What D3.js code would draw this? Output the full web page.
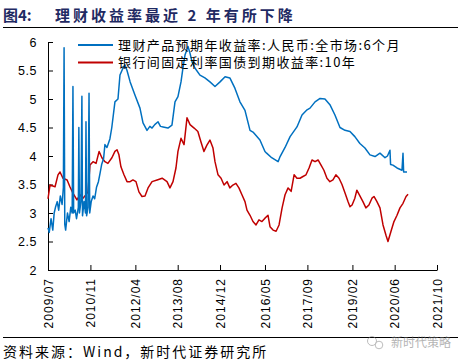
<!DOCTYPE html>
<html>
<head>
<meta charset="utf-8">
<script src="https://cdn.jsdelivr.net/npm/d3@7"></script>
<style>
  body { margin: 0; background: #fff; }
  svg { display: block; }
</style>
</head>
<body>
<div id="graph"></div>
<script>
// 理财产品预期年收益率:人民币:全市场:6个月
var wmpRates = [
    ['2009-07-01', 2.74], ['2009-07-15', 2.66], ['2009-08-05', 2.9], ['2009-08-25', 2.7],
    ['2009-09-10', 3.0], ['2009-09-25', 3.1], ['2009-10-15', 3.2], ['2009-11-01', 3.05],
    ['2009-11-20', 3.3], ['2009-12-10', 3.15], ['2009-12-25', 3.45], ['2010-01-02', 5.9],
    ['2010-01-10', 2.8], ['2010-01-20', 2.7], ['2010-02-10', 3.0], ['2010-03-01', 2.85],
    ['2010-03-20', 3.1], ['2010-04-05', 3.0], ['2010-04-14', 5.22], ['2010-04-22', 3.0],
    ['2010-05-10', 3.05], ['2010-05-25', 2.9], ['2010-06-15', 3.1], ['2010-06-21', 4.5],
    ['2010-06-28', 3.0], ['2010-07-15', 3.2], ['2010-07-26', 5.05], ['2010-08-02', 2.95],
    ['2010-08-20', 3.2], ['2010-09-05', 3.0], ['2010-09-11', 4.6], ['2010-09-18', 2.95],
    ['2010-10-05', 3.1], ['2010-10-16', 5.1], ['2010-10-24', 3.0], ['2010-11-10', 3.2],
    ['2010-12-01', 3.3], ['2010-12-20', 3.25], ['2011-01-10', 3.45], ['2011-02-01', 3.55],
    ['2011-02-20', 3.7], ['2011-03-10', 3.85], ['2011-04-01', 3.95], ['2011-04-17', 4.2],
    ['2011-05-10', 4.15], ['2011-06-13', 4.3], ['2011-07-05', 4.5], ['2011-08-10', 4.95],
    ['2011-09-14', 5.0], ['2011-10-07', 5.42], ['2011-11-10', 5.54], ['2011-12-03', 5.6],
    ['2011-12-27', 5.5], ['2012-02-01', 5.3], ['2012-03-27', 5.07], ['2012-05-24', 4.84],
    ['2012-06-28', 4.58], ['2012-08-13', 4.45], ['2012-09-15', 4.52], ['2012-10-10', 4.49],
    ['2012-11-10', 4.55], ['2012-12-18', 4.6], ['2013-01-15', 4.52], ['2013-02-14', 4.51],
    ['2013-04-11', 4.49], ['2013-05-27', 4.54], ['2013-07-01', 4.95], ['2013-08-04', 5.04],
    ['2013-09-08', 5.3], ['2013-10-01', 5.55], ['2013-10-24', 5.77], ['2013-11-28', 5.92],
    ['2013-12-21', 5.8], ['2014-01-13', 5.65], ['2014-02-17', 5.54], ['2014-04-14', 5.42],
    ['2014-06-10', 5.37], ['2014-08-07', 5.3], ['2014-10-04', 5.22], ['2014-12-01', 5.3],
    ['2015-01-28', 5.39], ['2015-03-24', 5.37], ['2015-05-21', 5.19], ['2015-07-18', 4.95],
    ['2015-09-14', 4.8], ['2015-11-11', 4.45], ['2015-12-15', 4.42], ['2016-01-07', 4.38],
    ['2016-03-04', 4.28], ['2016-05-01', 4.08], ['2016-05-20', 4.05], ['2016-07-17', 3.97],
    ['2016-09-29', 3.9], ['2016-10-22', 3.99], ['2016-12-18', 4.15], ['2017-02-14', 4.34],
    ['2017-05-04', 4.51], ['2017-07-01', 4.72], ['2017-08-28', 4.81], ['2017-10-01', 4.84],
    ['2017-11-28', 4.95], ['2018-01-25', 5.01], ['2018-03-22', 5.0], ['2018-05-18', 4.9],
    ['2018-07-15', 4.72], ['2018-09-11', 4.5], ['2018-11-08', 4.45], ['2019-01-04', 4.43],
    ['2019-03-01', 4.34], ['2019-04-28', 4.22], ['2019-06-25', 4.14], ['2019-08-22', 4.02],
    ['2019-10-19', 3.99], ['2019-12-15', 4.05], ['2020-02-11', 3.97], ['2020-03-10', 4.0],
    ['2020-04-08', 4.1], ['2020-04-15', 3.85], ['2020-05-12', 3.84], ['2020-06-28', 3.79],
    ['2020-08-24', 3.75], ['2020-09-05', 4.05], ['2020-09-12', 3.72], ['2020-10-21', 3.72]
];

// 银行间固定利率国债到期收益率:10年
var bondYields = [
    ['2009-07-01', 3.25], ['2009-07-24', 3.49], ['2009-09-20', 3.46], ['2009-10-24', 3.67],
    ['2009-11-16', 3.72], ['2009-12-20', 3.61], ['2010-02-06', 3.58], ['2010-03-10', 3.46],
    ['2010-04-14', 3.35], ['2010-05-30', 3.23], ['2010-07-03', 3.32], ['2010-08-07', 3.26],
    ['2010-09-11', 3.32], ['2010-10-04', 3.37], ['2010-10-27', 3.84], ['2010-12-01', 3.9],
    ['2011-01-05', 3.87], ['2011-02-09', 4.08], ['2011-03-13', 3.97], ['2011-04-17', 3.9],
    ['2011-05-21', 3.87], ['2011-07-06', 3.97], ['2011-08-10', 4.08], ['2011-09-03', 4.11],
    ['2011-09-25', 4.02], ['2011-10-18', 3.81], ['2011-11-22', 3.67], ['2011-12-27', 3.55],
    ['2012-02-01', 3.55], ['2012-03-04', 3.58], ['2012-04-08', 3.55], ['2012-05-12', 3.37],
    ['2012-06-16', 3.29], ['2012-07-21', 3.3], ['2012-08-25', 3.44], ['2012-10-10', 3.55],
    ['2012-12-07', 3.58], ['2013-02-03', 3.61], ['2013-03-31', 3.55], ['2013-05-04', 3.44],
    ['2013-06-08', 3.55], ['2013-07-12', 3.79], ['2013-08-04', 4.08], ['2013-09-08', 4.31],
    ['2013-10-13', 4.2], ['2013-11-16', 4.67], ['2013-12-21', 4.55], ['2014-02-06', 4.49],
    ['2014-03-21', 4.43], ['2014-04-25', 4.25], ['2014-05-30', 4.08], ['2014-07-03', 4.19],
    ['2014-08-07', 4.28], ['2014-09-11', 4.14], ['2014-10-04', 3.9], ['2014-11-08', 3.67],
    ['2014-12-13', 3.61], ['2015-01-16', 3.49], ['2015-02-20', 3.55], ['2015-03-24', 3.44],
    ['2015-04-28', 3.49], ['2015-06-02', 3.52], ['2015-07-06', 3.44], ['2015-08-10', 3.32],
    ['2015-09-14', 3.2], ['2015-10-07', 3.05], ['2015-11-11', 2.96], ['2015-12-15', 2.85],
    ['2016-01-19', 2.79], ['2016-02-22', 2.88], ['2016-03-27', 2.85], ['2016-05-01', 2.91],
    ['2016-06-05', 2.96], ['2016-06-28', 2.76], ['2016-08-02', 2.7], ['2016-09-06', 2.68],
    ['2016-10-10', 2.79], ['2016-11-14', 3.09], ['2016-12-18', 3.32], ['2017-01-22', 3.44],
    ['2017-02-26', 3.38], ['2017-04-01', 3.67], ['2017-05-04', 3.61], ['2017-06-08', 3.61],
    ['2017-07-12', 3.64], ['2017-08-16', 3.67], ['2017-09-20', 3.79], ['2017-10-24', 3.93],
    ['2017-11-28', 3.9], ['2018-01-02', 3.93], ['2018-02-05', 3.84], ['2018-03-10', 3.75],
    ['2018-04-14', 3.61], ['2018-05-18', 3.55], ['2018-06-22', 3.58], ['2018-07-26', 3.67],
    ['2018-08-31', 3.61], ['2018-10-04', 3.5], ['2018-11-08', 3.35], ['2018-12-12', 3.2],
    ['2019-01-04', 3.11], ['2019-01-28', 3.14], ['2019-03-01', 3.26], ['2019-03-24', 3.4],
    ['2019-04-28', 3.3], ['2019-06-02', 3.2], ['2019-07-06', 3.09], ['2019-08-10', 3.14],
    ['2019-09-14', 3.26], ['2019-10-07', 3.29], ['2019-11-10', 3.2], ['2019-12-15', 3.09],
    ['2020-01-19', 2.79], ['2020-02-22', 2.61], ['2020-03-16', 2.5], ['2020-04-20', 2.68],
    ['2020-05-24', 2.85], ['2020-06-28', 2.96], ['2020-08-01', 3.09], ['2020-09-05', 3.17],
    ['2020-10-10', 3.29], ['2020-11-02', 3.33]
];

var seriesNames = ['理财产品预期年收益率:人民币:全市场:6个月', '银行间固定利率国债到期收益率:10年'],
    seriesColors = ['#0070c0', '#c00000'];

var xTickDates = ['2009-07-01', '2010-11-01', '2012-04-01', '2013-08-01', '2014-12-01',
                  '2016-05-01', '2017-09-01', '2019-02-01', '2020-06-01', '2021-10-01'],
    yTicks = [2, 2.5, 3, 3.5, 4, 4.5, 5, 5.5, 6];

var width = 461,
    height = 362,
    margin = {left: 48, right: 24, top: 42, bottom: 92},
    parse = d3.timeParse('%Y-%m-%d');

var svg = d3.select('#graph')
    .append('svg')
    .attr('width', width)
    .attr('height', height);

var x = d3.scaleTime()
        .domain([parse(xTickDates[0]), parse(xTickDates[xTickDates.length - 1])])
        .range([margin.left, width - margin.right]),
    y = d3.scaleLinear()
        .domain([2, 6])
        .range([height - margin.bottom, margin.top]);

// title
svg.append('text')
    .attr('x', 3)
    .attr('y', 21)
    .attr('fill', '#1f2a63')
    .style('font-family', '"Noto Sans CJK SC", sans-serif')
    .style('font-weight', 'bold')
    .style('font-size', '15px')
    .text('图4:');
svg.append('text')
    .attr('x', 55)
    .attr('y', 21)
    .attr('fill', '#1f2a63')
    .style('font-family', '"Noto Sans CJK SC", sans-serif')
    .style('font-weight', 'bold')
    .style('font-size', '15px')
    .style('letter-spacing', '3px')
    .text('理财收益率最近 2 年有所下降');
svg.append('line')
    .attr('x1', 3).attr('x2', 458)
    .attr('y1', 27.5).attr('y2', 27.5)
    .attr('stroke', '#000')
    .attr('stroke-width', 1.2);

// axes
var yAxis = d3.axisLeft(y)
    .tickValues(yTicks)
    .tickSizeInner(-5)
    .tickSizeOuter(0)
    .tickPadding(11)
    .tickFormat(function (d) { return d % 1 ? d3.format('.1f')(d) : d; });

var gy = svg.append('g')
    .attr('transform', 'translate(' + margin.left + ',0)')
    .call(yAxis);
gy.selectAll('text')
    .style('font-family', 'Arial, "Liberation Sans", sans-serif')
    .style('font-size', '12.5px')
    .style('letter-spacing', '0.5px')
    .attr('fill', '#000');

var xAxis = d3.axisBottom(x)
    .tickValues(xTickDates.map(parse))
    .tickSizeInner(-5)
    .tickSizeOuter(0)
    .tickFormat(d3.timeFormat('%Y/%m'));

var gx = svg.append('g')
    .attr('transform', 'translate(0,' + (height - margin.bottom) + ')')
    .call(xAxis);
gx.selectAll('text')
    .attr('transform', 'rotate(-90)')
    .attr('x', -8)
    .attr('y', 0)
    .attr('dy', '0.35em')
    .style('text-anchor', 'end')
    .style('font-family', 'Arial, "Liberation Sans", sans-serif')
    .style('font-size', '12px')
    .style('letter-spacing', '1px')
    .attr('fill', '#000');

svg.selectAll('.domain, .tick line').attr('stroke', '#000');

// lines
var line = d3.line()
    .x(function (d) { return x(parse(d[0])); })
    .y(function (d) { return y(d[1]); });

svg.append('path')
    .datum(bondYields)
    .attr('d', line)
    .attr('fill', 'none')
    .attr('stroke', seriesColors[1])
    .attr('stroke-width', 1.5)
    .attr('stroke-linejoin', 'round');

svg.append('path')
    .datum(wmpRates)
    .attr('d', line)
    .attr('fill', 'none')
    .attr('stroke', seriesColors[0])
    .attr('stroke-width', 1.5)
    .attr('stroke-linejoin', 'round');

// legend
var legend = svg.selectAll('.legend')
    .data(seriesNames)
    .enter()
    .append('g')
    .attr('class', 'legend')
    .attr('transform', function (d, i) { return 'translate(78,' + (45 + i * 17.5) + ')'; });

legend.append('line')
    .attr('x1', 0).attr('x2', 35)
    .attr('stroke', function (d, i) { return seriesColors[i]; })
    .attr('stroke-width', 2);

legend.append('text')
    .attr('x', 40)
    .attr('dy', '0.36em')
    .attr('fill', '#000')
    .style('font-family', '"Noto Sans CJK SC", sans-serif')
    .style('font-size', '13px')
    .style('letter-spacing', '1.4px')
    .text(function (d) { return d; });

// footer
svg.append('line')
    .attr('x1', 3).attr('x2', 458)
    .attr('y1', 337.5).attr('y2', 337.5)
    .attr('stroke', '#000')
    .attr('stroke-width', 1.2);

svg.append('text')
    .attr('x', 3)
    .attr('y', 357)
    .attr('fill', '#000')
    .style('font-family', '"Noto Sans CJK SC", sans-serif')
    .style('font-size', '14px')
    .style('letter-spacing', '2px')
    .text('资料来源：Wind，新时代证券研究所');

// watermark
var wm = svg.append('g')
    .attr('opacity', 0.55);
wm.append('circle')
    .attr('cx', 372).attr('cy', 341).attr('r', 4.5)
    .attr('fill', 'none').attr('stroke', '#888');
wm.append('circle')
    .attr('cx', 379).attr('cy', 345).attr('r', 3.8)
    .attr('fill', 'none').attr('stroke', '#888');
wm.append('text')
    .attr('x', 391)
    .attr('y', 347)
    .attr('fill', '#777')
    .style('font-family', '"Noto Sans CJK SC", sans-serif')
    .style('font-size', '12px')
    .text('新时代策略');
</script>
</body>
</html>
